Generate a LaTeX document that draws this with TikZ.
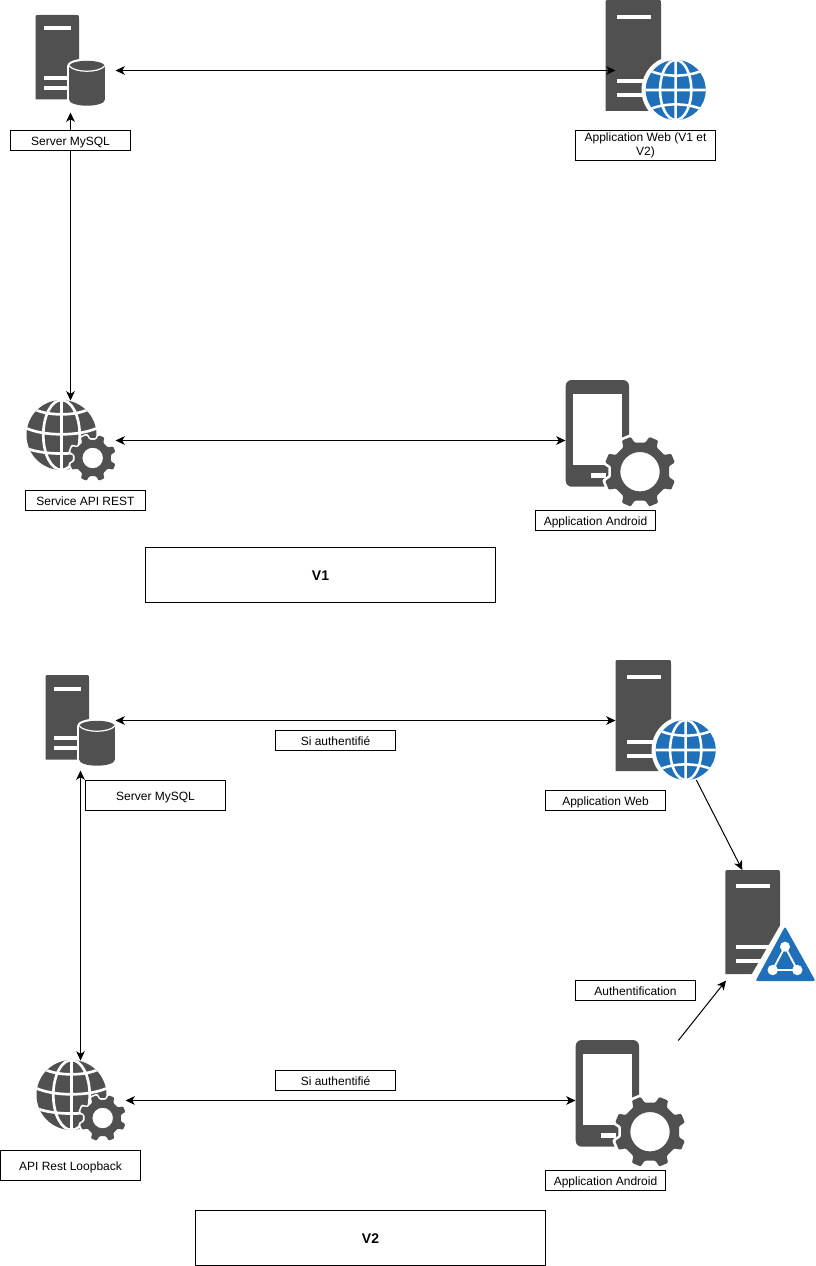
\documentclass[tikz,border=0pt]{standalone}
\usepackage{fontspec}
\setmainfont{Liberation Sans}
\usetikzlibrary{arrows.meta}
\definecolor{icondark}{HTML}{505050}
\definecolor{iconblue}{HTML}{1F70B8}
\tikzset{
  labbase/.style={draw=black,fill=white,line width=.75pt,inner sep=0pt,align=center,font=\fontsize{9}{10.8}\selectfont},
  lab/.style={labbase,text height=8pt,text depth=.5pt},
  verbox/.style={labbase,font=\fontsize{10.5}{12.6}\selectfont\bfseries,text height=9pt,text depth=.8pt},
  port/.style={inner sep=0pt,outer sep=0pt,draw=none,fill=none,rectangle},
  link/.style={line width=.75pt,draw=black,>={Stealth[length=7pt,width=6.5pt,inset=2pt]}}
}
% box by its pixel corners
\newcommand\labbox[7][lab]{\node[#1,minimum width={(#5-#3)*0.75pt},minimum height={(#6-#4)*0.75pt}] (#2) at ({(#3+#5)/2+.5},{(#4+#6)/2+.5}) {#7};}
\newcommand\portbox[5]{\node[port,minimum width={(#4-#2)*0.75pt},minimum height={(#5-#3)*0.75pt}] (#1) at ({(#2+#4)/2},{(#3+#5)/2}) {};}
% server body
\newcommand\srvbody[4]{\fill[icondark] (#1,#4) -- (#1,#3+4) .. controls (#1,#3) .. (#1+4,#3) -- (#2-4,#3) .. controls (#2,#3) .. (#2,#3+4) -- (#2,#4) -- cycle;}
\newcommand\wbar[3]{\fill[white] (#1,#3) rectangle (#2,#3+4);}
% gear: cx cy R body hole whitewidth
\newcommand\gearshape[2]{(10.5:#2) -- (15:#1) -- (30:#1) -- (34.5:#2) \foreach \i in {1,...,7}{ -- ({10.5+45*\i}:#2) -- ({15+45*\i}:#1) -- ({30+45*\i}:#1) -- ({34.5+45*\i}:#2)} -- cycle}
\newcommand\geartool[6]{\begin{scope}[shift={(#1,#2)}]
  \path[fill=white,draw=white,line width=#6,line join=round] \gearshape{#3}{#4};
  \path[fill=icondark,even odd rule,rounded corners=.8pt] \gearshape{#3}{#4} (0,0) circle (#5);
\end{scope}}
% blue globe with white ring
\newcommand\blueglobe[2]{\begin{scope}[shift={(#1,#2)},scale=30]
  \fill[white] (0,0) circle (1.14);
  \fill[iconblue] (0,0) circle (1);
  \begin{scope}\clip (0,0) circle (1);
    \draw[white,line width=1.9pt] (0,-1) -- (0,1) (0,0) ellipse (.52 and 1) (-1,0) -- (1,0)
      (-.9,-.66) .. controls (-.4,-.42) and (.4,-.42) .. (.9,-.66)
      (-.9,.66) .. controls (-.4,.42) and (.4,.42) .. (.9,.66);
  \end{scope}
\end{scope}}
% dark globe
\newcommand\darkglobe[2]{\begin{scope}[shift={(#1,#2)},scale=35]
  \fill[icondark] (0,0) circle (1);
  \begin{scope}\clip (0,0) circle (1);
    \draw[white,line width=2pt] (0,-1) -- (0,1) (0,0) ellipse (.52 and 1)
      (-.78,-.74) .. controls (-.4,-.54) and (.4,-.54) .. (.78,-.74)
      (-1.02,-.2) .. controls (-.5,.04) and (.5,.04) .. (1.02,-.2)
      (-1,.38) .. controls (-.5,.58) and (.5,.58) .. (1,.38);
  \end{scope}
\end{scope}}
% icons, drawn at their V1 positions
\newcommand\dbicon{%
  \srvbody{35.5}{79}{15}{99.5}
  \wbar{44}{70.5}{26.5}\wbar{44}{70.5}{76}\wbar{44}{70.5}{86}
  \fill[white] (67,66) rectangle (107,100);
  \fill[white] (87,66) ellipse (20 and 7.5);
  \fill[white] (87,100) ellipse (20 and 8);
  \fill[icondark] (69.3,66) rectangle (104.7,100);
  \fill[icondark] (87,66) ellipse (17.7 and 5.2);
  \fill[icondark] (87,100) ellipse (17.7 and 5.7);
  \draw[white,line width=.9pt] (69.3,66) .. controls (75,73) and (99,73) .. (104.7,66);
}
\newcommand\webicon{%
  \srvbody{605.5}{661}{0}{111}
  \wbar{616.5}{651}{14.8}\wbar{616.5}{651}{79.5}\wbar{616.5}{651}{93.5}
  \blueglobe{675.7}{90}
}
\newcommand\apiicon{%
  \darkglobe{61.5}{435}
  \geartool{92.7}{458}{23.5}{18.5}{10.3}{2.4pt}
}
\newcommand\phoneicon{%
  \fill[icondark,rounded corners=4.5pt] (565.7,380) rectangle (629,486.7);
  \fill[white] (573.3,394) rectangle (621.7,465);
  \fill[white] (591,473) rectangle (606,477.5);
  \geartool{640}{471.7}{36}{29.5}{19.7}{4pt}
}
\begin{document}
\begin{tikzpicture}[x=0.75pt,y=-0.75pt]
\useasboundingbox (0,0) rectangle (816,1266);
% ---------- V1 icons
\dbicon
\webicon
\apiicon
\phoneicon
% ---------- V2 icons
\begin{scope}[shift={(10,660)}]
  \dbicon
  \webicon
  \apiicon
  \phoneicon
\end{scope}
% authentication server
\srvbody{725.3}{780}{870}{974}
\wbar{736}{770}{884.3}\wbar{736}{770}{945}\wbar{736}{770}{958.7}
\fill[white] (785,917) -- (825,986) -- (745,986) -- cycle;
\fill[iconblue,rounded corners=1.5pt] (785,926.5) -- (815.5,981) -- (755.5,981) -- cycle;
\draw[white,line width=1.4pt] (785,946.7) -- (772.7,970) -- (797.3,970) -- cycle;
\fill[white] (785,946.7) circle (5) (772.7,970) circle (5.2) (797.3,970) circle (5.2);
% ---------- invisible ports
\portbox{srvA}{25.5}{28.5}{115.5}{112.5}
\portbox{webA}{615.5}{20.5}{735.5}{120.5}
\portbox{apiA}{25.5}{400.5}{115.5}{480.5}
\portbox{phoneA}{565.5}{400.5}{685.5}{480.5}
\portbox{srvB}{45.5}{670.5}{115.5}{770.5}
\portbox{webB}{615.5}{670.5}{735.5}{770.5}
\portbox{apiB}{35.5}{1060.5}{125.5}{1140.5}
\portbox{phoneB}{575.5}{1060.5}{695.5}{1140.5}
\coordinate (webBout) at (696.3,780);
\coordinate (authTop) at (742.3,870);
\coordinate (phoneBout) at (678.3,1040.5);
\coordinate (authLeft) at (726,980.5);
% ---------- connectors
\draw[link,<->] (srvA.east) -- (webA.west);
\draw[link,<->] (srvA.south) -- (apiA.north);
\draw[link,<->] (apiA.east) -- (phoneA.west);
\draw[link,<->] (srvB.east) -- (webB.west);
\draw[link,<->] (srvB.south) -- (apiB.north);
\draw[link,<->] (apiB.east) -- (phoneB.west);
\draw[link,->] (webBout) -- (authTop);
\draw[link,->] (phoneBout) -- (authLeft);
% ---------- labels
\labbox{lblMysqlA}{10}{130}{130}{150}{Server MySQL}
\labbox[labbase]{lblWebA}{575}{130}{715}{160}{\raisebox{-1.1pt}{\begin{tabular}{@{}c@{}}Application Web (V1 et\\V2)\end{tabular}}}
\labbox{lblApiA}{25}{490}{145}{510}{Service API REST}
\labbox{lblAndroidA}{535}{510}{655}{530}{Application Android}
\labbox[verbox]{lblVone}{145}{547}{495}{602}{V1}
\labbox{lblMysqlB}{85}{780}{225}{810}{Server MySQL}
\labbox{lblAuthTop}{275}{730}{395}{750}{Si authentifié}
\labbox{lblWebB}{545}{790}{665}{810}{Application Web}
\labbox{lblAuth}{575}{980}{695}{1000}{Authentification}
\labbox{lblAuthBot}{275}{1070}{395}{1090}{Si authentifié}
\labbox{lblApiB}{0}{1150}{140}{1180}{API Rest Loopback}
\labbox{lblAndroidB}{545}{1170}{665}{1190}{Application Android}
\labbox[verbox]{lblVtwo}{195}{1210}{545}{1265}{V2}
\end{tikzpicture}
\end{document}
